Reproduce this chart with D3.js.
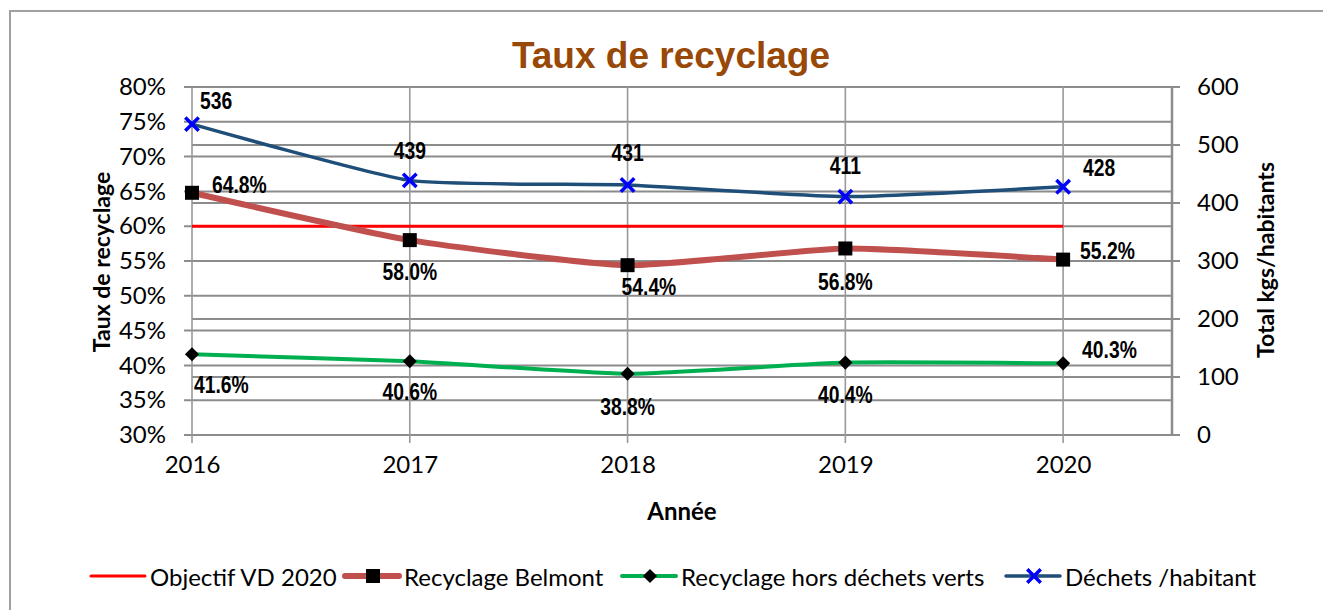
<!DOCTYPE html>
<html>
<head>
<meta charset="utf-8">
<script src="https://cdn.jsdelivr.net/npm/d3@7/dist/d3.min.js"></script>
<style>
  html, body { margin: 0; padding: 0; background: #fff; }
  svg { display: block; }
</style>
</head>
<body>
<svg id="chart" width="1323" height="610"></svg>
<script>
// ---- data ----
const years = ["2016", "2017", "2018", "2019", "2020"];
const objectifVD = [60, 60, 60, 60, 60];                   // % target
const recyclageBelmont = [64.8, 58.0, 54.4, 56.8, 55.2];   // %
const recyclageHorsVerts = [41.6, 40.6, 38.8, 40.4, 40.3]; // %
const dechetsHabitant = [536, 439, 431, 411, 428];         // kg per inhabitant
const leftTicks = [30, 35, 40, 45, 50, 55, 60, 65, 70, 75, 80];
const rightTicks = [0, 100, 200, 300, 400, 500, 600];

// label placement per point: [dx, dy, anchor]
const belmontLabelPos = [[20, -8, "start"], [0, 32, "middle"], [-6, 22, "start"], [0, 33, "middle"], [17, -9, "start"]];
const vertsLabelPos = [[2, 31, "start"], [0, 31, "middle"], [0, 33, "middle"], [0, 32, "middle"], [19, -13, "start"]];
const dechetsLabelPos = [[8, -23, "start"], [0, -30, "middle"], [0, -32, "middle"], [0, -31, "middle"], [20, -19, "start"]];

const svg = d3.select("#chart");
const SANS = "Lato, 'Open Sans', sans-serif";
const BOLD_LABEL = "'Liberation Sans', Arial, sans-serif";

// outer chart border
svg.append("rect").attr("x", 10).attr("y", 11).attr("width", 1330).attr("height", 620)
  .attr("fill", "none").attr("stroke", "#a0a0a0").attr("stroke-width", 2);

const plot = { left: 192, right: 1172, top: 87, bottom: 435 };

const x = d3.scaleLinear().domain([0, 4.5]).range([plot.left, plot.right]);
const yL = d3.scaleLinear().domain([30, 80]).range([plot.bottom, plot.top]);
const yR = d3.scaleLinear().domain([0, 600]).range([plot.bottom, plot.top]);

const gridColor = "#8c8c8c";

// horizontal grid from both axes
const gGrid = svg.append("g");
gGrid.selectAll("line.gl").data(leftTicks).join("line")
  .attr("x1", plot.left - 8).attr("x2", plot.right)
  .attr("y1", d => yL(d)).attr("y2", d => yL(d))
  .attr("stroke", gridColor).attr("stroke-width", 2);
gGrid.selectAll("line.gr").data(rightTicks).join("line")
  .attr("x1", plot.left).attr("x2", plot.right + 8)
  .attr("y1", d => yR(d)).attr("y2", d => yR(d))
  .attr("stroke", gridColor).attr("stroke-width", 2);
// vertical grid at categories
gGrid.selectAll("line.gv").data(years).join("line")
  .attr("x1", (d, i) => x(i)).attr("x2", (d, i) => x(i))
  .attr("y1", plot.top).attr("y2", plot.bottom + 8)
  .attr("stroke", "#999").attr("stroke-width", 1.6);
// right axis line
svg.append("line").attr("x1", plot.right).attr("x2", plot.right)
  .attr("y1", plot.top).attr("y2", plot.bottom)
  .attr("stroke", gridColor).attr("stroke-width", 2.5);

// axes (tick labels; lines are drawn with the grid)
const axL = svg.append("g").attr("transform", `translate(${plot.left},0)`)
  .call(d3.axisLeft(yL).tickValues(leftTicks).tickFormat(d => d + "%").tickSize(0).tickPadding(26));
const axR = svg.append("g").attr("transform", `translate(${plot.right},0)`)
  .call(d3.axisRight(yR).tickValues(rightTicks).tickSize(0).tickPadding(25));
const axB = svg.append("g").attr("transform", `translate(0,${plot.bottom})`)
  .call(d3.axisBottom(x).tickValues(d3.range(years.length)).tickFormat(i => years[i]).tickSize(0).tickPadding(21));
[axL, axR, axB].forEach(a => {
  a.select(".domain").remove();
  a.selectAll("text").attr("font-family", SANS).attr("font-size", 24).attr("fill", "#000");
});

// axis titles
svg.append("text").attr("transform", `translate(101,262) rotate(-90)`)
  .attr("text-anchor", "middle").attr("dominant-baseline", "central")
  .attr("font-family", SANS).attr("font-weight", "bold").attr("font-size", 23).text("Taux de recyclage");
svg.append("text").attr("transform", `translate(1265,260) rotate(-90)`)
  .attr("text-anchor", "middle").attr("dominant-baseline", "central")
  .attr("font-family", SANS).attr("font-weight", "bold").attr("font-size", 23).text("Total kgs/habitants");
svg.append("text").attr("x", 682).attr("y", 510)
  .attr("text-anchor", "middle").attr("dominant-baseline", "central")
  .attr("font-family", SANS).attr("font-weight", "bold").attr("font-size", 24).text("Année");

// title
svg.append("text").attr("x", 671).attr("y", 55)
  .attr("text-anchor", "middle").attr("dominant-baseline", "central")
  .attr("font-family", "'Liberation Sans', Arial, sans-serif").attr("font-weight", "bold")
  .attr("font-size", 37).attr("fill", "#984807").text("Taux de recyclage");

// ---- series ----
const smooth = d3.curveCardinal.tension(0.5);
const lineL = d3.line().x((d, i) => x(i)).y(d => yL(d));
const lineLs = d3.line().x((d, i) => x(i)).y(d => yL(d)).curve(smooth);
const lineRs = d3.line().x((d, i) => x(i)).y(d => yR(d)).curve(smooth);

svg.append("path").attr("d", lineL(objectifVD)).attr("fill", "none")
  .attr("stroke", "#ff0000").attr("stroke-width", 3);
svg.append("path").attr("d", lineLs(recyclageBelmont)).attr("fill", "none")
  .attr("stroke", "#c0504d").attr("stroke-width", 6);
svg.append("path").attr("d", lineLs(recyclageHorsVerts)).attr("fill", "none")
  .attr("stroke", "#00b050").attr("stroke-width", 4);
svg.append("path").attr("d", lineRs(dechetsHabitant)).attr("fill", "none")
  .attr("stroke", "#1f4e79").attr("stroke-width", 3.5);

// markers
const sq = d3.symbol().type(d3.symbolSquare).size(196);
const dia = d3.symbol().type(d3.symbolSquare).size(100);   // rotated 45° when placed
const cross = d3.symbol().type(d3.symbolX).size(120);

svg.selectAll("path.mb").data(recyclageBelmont).join("path")
  .attr("transform", (d, i) => `translate(${x(i)},${yL(d)})`).attr("d", sq).attr("fill", "#000");
svg.selectAll("path.mv").data(recyclageHorsVerts).join("path")
  .attr("transform", (d, i) => `translate(${x(i)},${yL(d)}) rotate(45)`).attr("d", dia).attr("fill", "#000");
svg.selectAll("path.md").data(dechetsHabitant).join("path")
  .attr("transform", (d, i) => `translate(${x(i)},${yR(d)})`).attr("d", cross)
  .attr("fill", "none").attr("stroke", "#0000ff").attr("stroke-width", 3.5);

// data labels (bold, horizontally condensed)
function labels(values, yScale, pos, fmt) {
  svg.append("g").selectAll("text").data(values).join("text")
    .attr("transform", (d, i) => `translate(${x(i) + pos[i][0]},${yScale(d) + pos[i][1]}) scale(0.84,1)`)
    .attr("text-anchor", (d, i) => pos[i][2])
    .attr("dominant-baseline", "central")
    .attr("font-family", BOLD_LABEL).attr("font-weight", "bold").attr("font-size", 23)
    .attr("fill", "#000").text(fmt);
}
labels(recyclageBelmont, yL, belmontLabelPos, d => d.toFixed(1) + "%");
labels(recyclageHorsVerts, yL, vertsLabelPos, d => d.toFixed(1) + "%");
labels(dechetsHabitant, yR, dechetsLabelPos, d => d);

// ---- legend ----
const legendItems = [
  { name: "Objectif VD 2020", color: "#ff0000", width: 3, marker: null, x: 91 },
  { name: "Recyclage Belmont", color: "#c0504d", width: 6, marker: "square", x: 345 },
  { name: "Recyclage hors déchets verts", color: "#00b050", width: 4, marker: "diamond", x: 622 },
  { name: "Déchets /habitant", color: "#1f4e79", width: 3.5, marker: "x", x: 1006 }
];
const ly = 576;
const lg = svg.append("g");
legendItems.forEach(it => {
  const g = lg.append("g").attr("transform", `translate(${it.x},${ly})`);
  g.append("line").attr("x1", 0).attr("x2", 54).attr("stroke", it.color)
    .attr("stroke-width", it.width).attr("stroke-linecap", "round");
  if (it.marker === "square") g.append("path").attr("transform", "translate(28,0)").attr("d", sq).attr("fill", "#000");
  if (it.marker === "diamond") g.append("path").attr("transform", "translate(28,0) rotate(45)").attr("d", dia).attr("fill", "#000");
  if (it.marker === "x") g.append("path").attr("transform", "translate(28,0)").attr("d", cross)
    .attr("fill", "none").attr("stroke", "#0000ff").attr("stroke-width", 3.5);
  g.append("text").attr("x", 59).attr("y", 0).attr("dominant-baseline", "central")
    .attr("font-family", SANS).attr("font-size", 24).attr("fill", "#000").text(it.name);
});
</script>
</body>
</html>
